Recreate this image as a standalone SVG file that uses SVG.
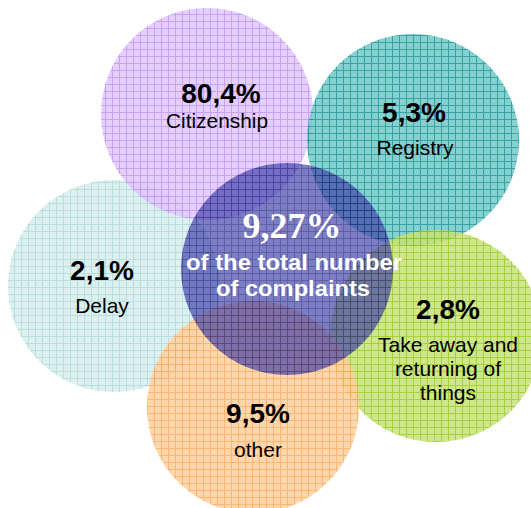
<svg xmlns="http://www.w3.org/2000/svg" width="531" height="508" viewBox="0 0 531 508">
<style>
.pct{font-family:"Liberation Sans",Arial,sans-serif;font-weight:bold;font-size:28px;fill:#000;text-anchor:middle}
.lbl{font-family:"Liberation Sans",Arial,sans-serif;font-size:21px;fill:#000;text-anchor:middle}
.cpct{font-family:"Liberation Serif","Times New Roman",serif;font-weight:bold;font-size:36px;fill:#fff;text-anchor:middle}
.clbl{font-family:"Liberation Sans",Arial,sans-serif;font-weight:bold;font-size:22px;fill:#fff;text-anchor:middle}
.grid{fill:none;stroke-width:1}
</style>
<defs>
<pattern id="pDelay" patternUnits="userSpaceOnUse" width="7" height="7">
<rect width="7" height="7" fill="#D9EEEE"/><path class="grid" d="M0 0.5H7M0.5 0V7" stroke="#B0DADA"/>
</pattern>
<pattern id="pPurple" patternUnits="userSpaceOnUse" width="7" height="7">
<rect width="7" height="7" fill="#E0C8FF"/><path class="grid" d="M0 0.5H7M0.5 0V7" stroke="#C294F4"/>
</pattern>
<pattern id="pTeal" patternUnits="userSpaceOnUse" width="7" height="7">
<rect width="7" height="7" fill="#78C8C8"/><path class="grid" d="M0 0.5H7M0.5 0V7" stroke="#189898"/>
</pattern>
<pattern id="pGreen" patternUnits="userSpaceOnUse" width="7" height="7">
<rect width="7" height="7" fill="#C8E278"/><path class="grid" d="M0 0.5H7M0.5 0V7" stroke="#98C81C"/>
</pattern>
<pattern id="pOrange" patternUnits="userSpaceOnUse" width="7" height="7">
<rect width="7" height="7" fill="#FFD0A0"/><path class="grid" d="M0 0.5H7M0.5 0V7" stroke="#FFA955"/>
</pattern>
<pattern id="pBlue" patternUnits="userSpaceOnUse" width="7" height="7">
<rect width="7" height="7" fill="#4040A8"/><path class="grid" d="M0 0.5H7M0.5 0V7" stroke="#14147A"/>
</pattern>
</defs>
<g id="delay"><circle cx="114" cy="286" r="106" fill="url(#pDelay)" opacity="0.9"/></g>
<g id="citizenship"><circle cx="207" cy="114" r="106" fill="url(#pPurple)" opacity="0.88"/></g>
<g id="registry"><circle cx="413" cy="140" r="106" fill="url(#pTeal)" opacity="0.88"/></g>
<g id="takeaway"><circle cx="436" cy="336" r="106" fill="url(#pGreen)" opacity="0.85"/></g>
<g id="other"><circle cx="253" cy="407" r="106" fill="url(#pOrange)" opacity="0.85"/></g>
<g id="total"><circle cx="287" cy="269" r="106" fill="url(#pBlue)" opacity="0.68"/></g>
<g id="connectors"></g>
<g id="labels">
<text class="pct" x="221" y="103">80,4%</text>
<text class="lbl" x="217" y="128" textLength="102" lengthAdjust="spacingAndGlyphs">Citizenship</text>
<text class="pct" x="414" y="122">5,3%</text>
<text class="lbl" x="415" y="155">Registry</text>
<text class="pct" x="102" y="280">2,1%</text>
<text class="lbl" x="102" y="313">Delay</text>
<text class="pct" x="448" y="319">2,8%</text>
<text class="lbl" x="448" y="352">Take away and</text>
<text class="lbl" x="448" y="376">returning of</text>
<text class="lbl" x="448" y="400">things</text>
<text class="pct" x="258" y="423">9,5%</text>
<text class="lbl" x="258" y="457">other</text>
<text class="cpct" x="292" y="238">9,27%</text>
<text class="clbl" x="294" y="270" textLength="216" lengthAdjust="spacingAndGlyphs">of the total number</text>
<text class="clbl" x="293" y="296" textLength="154" lengthAdjust="spacingAndGlyphs">of complaints</text>
</g>
</svg>
